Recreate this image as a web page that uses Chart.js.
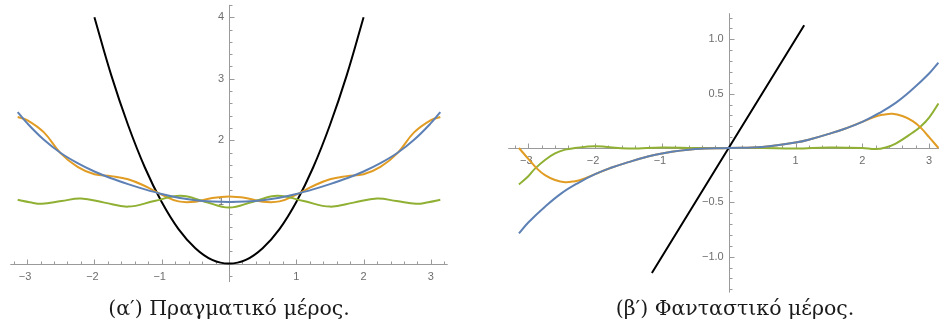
<!DOCTYPE html>
<html lang="el">
<head>
<meta charset="UTF-8" />
<title>Πραγματικό και φανταστικό μέρος</title>
<script src="https://cdn.jsdelivr.net/npm/chart.js"></script>
<style>
    body {
        margin: 0;
        background: #ffffff;
        width: 939px;
        height: 327px;
        overflow: hidden;
        position: relative;
    }
    canvas {
        position: absolute;
        top: 0;
    }
    #reCanvas { left: 0; }
    #imCanvas { left: 500px; }
    .caption {
        position: absolute;
        top: 296px;
        font-family: "DejaVu Serif", serif;
        font-size: 20.5px;
        color: #1a1a1a;
        text-align: center;
        width: 400px;
        white-space: nowrap;
    }
</style>
</head>
<body>

<canvas id="reCanvas" width="460" height="300"></canvas>
<canvas id="imCanvas" width="439" height="300"></canvas>
<div class="caption" style="left: 29px;">(α′) Πραγματικό μέρος.</div>
<div class="caption" style="left: 535px;">(β′) Φανταστικό μέρος.</div>

<script>
    // ---- real part ----
    const reBlackX = [-2, -1.75, -1.5, -1.25, -1, -0.75, -0.5, -0.25, 0, 0.25, 0.5, 0.75, 1, 1.25, 1.5, 1.75, 2];
    const reBlackY = [4, 3.06, 2.25, 1.56, 1, 0.56, 0.25, 0.06, 0, 0.06, 0.25, 0.56, 1, 1.56, 2.25, 3.06, 4];

    const reGridX = [-3.14, -3, -2.75, -2.5, -2.25, -2, -1.75, -1.5, -1.25, -1, -0.75, -0.5, -0.25, 0,
                     0.25, 0.5, 0.75, 1, 1.25, 1.5, 1.75, 2, 2.25, 2.5, 2.75, 3, 3.14];
    const reBlueY = [2.46, 2.28, 2.01, 1.795, 1.63, 1.495, 1.385, 1.29, 1.205, 1.13, 1.07, 1.03, 1.008, 1.00,
                     1.008, 1.03, 1.07, 1.13, 1.205, 1.29, 1.385, 1.495, 1.63, 1.795, 2.01, 2.28, 2.46];
    const reOrangeY = [2.38, 2.33, 2.13, 1.79, 1.57, 1.45, 1.42, 1.37, 1.26, 1.12, 1.01, 1.005, 1.065, 1.09,
                       1.065, 1.005, 1.01, 1.12, 1.26, 1.37, 1.42, 1.45, 1.57, 1.79, 2.13, 2.33, 2.38];

    const reGreenX = [-3.14, -2.96, -2.78, -2.49, -2.2, -1.85, -1.5, -1.11, -0.72, -0.36, 0,
                      0.36, 0.72, 1.11, 1.5, 1.85, 2.2, 2.49, 2.78, 2.96, 3.14];
    const reGreenY = [1.035, 0.995, 0.97, 1.015, 1.055, 0.99, 0.925, 1.015, 1.10, 1.005, 0.91,
                      1.005, 1.10, 1.015, 0.925, 0.99, 1.055, 1.015, 0.97, 0.995, 1.035];

    // ---- imaginary part ----
    const imBlackX = [-1.15, 1.13];
    const imBlackY = [-1.15, 1.13];

    const imBlueX = [-3.14, -3, -2.75, -2.5, -2.25, -2, -1.75, -1.5, -1.25, -1, -0.5, 0,
                     0.5, 1, 1.25, 1.5, 1.75, 2, 2.25, 2.5, 2.75, 3, 3.14];
    const imBlueY = [-0.785, -0.685, -0.54, -0.415, -0.32, -0.24, -0.18, -0.13, -0.085, -0.05, -0.01, 0,
                     0.01, 0.05, 0.085, 0.13, 0.18, 0.24, 0.32, 0.415, 0.54, 0.685, 0.785];

    const imOrangeX = [-3.14, -3, -2.87, -2.75, -2.6, -2.45, -2.3, -2.2, -2, -1.75, -1.5, -1.25, -1, -0.5, 0,
                       0.5, 1, 1.25, 1.5, 1.75, 2, 2.2, 2.3, 2.45, 2.6, 2.75, 2.87, 3, 3.14];
    const imOrangeY = [0, -0.10, -0.19, -0.25, -0.295, -0.315, -0.305, -0.29, -0.24, -0.18, -0.13, -0.085, -0.05, -0.01, 0,
                       0.01, 0.05, 0.085, 0.13, 0.18, 0.24, 0.29, 0.305, 0.315, 0.295, 0.25, 0.19, 0.10, 0];

    const imGreenX = [-3.14, -3, -2.9, -2.75, -2.6, -2.45, -2.3, -2, -1.5, -1, -0.5, 0,
                      0.5, 1, 1.5, 2, 2.2, 2.35, 2.5, 2.75, 2.87, 3, 3.14];
    const imGreenY = [-0.335, -0.26, -0.19, -0.11, -0.05, -0.015, 0, 0.015, -0.005, 0.005, 0, 0,
                      0, -0.005, 0.005, 0, -0.01, 0.005, 0.04, 0.14, 0.196, 0.28, 0.41];

    // ---- axis ticks ----
    const reXTicks = [-3, -2, -1, 1, 2, 3];
    const reXLabels = ['−3', '−2', '−1', '1', '2', '3'];
    const reYTicks = [1, 2, 3, 4];
    const reYLabels = ['1', '2', '3', '4'];
    const imXTicks = [-3, -2, -1, 1, 2, 3];
    const imXLabels = ['−3', '−2', '−1', '1', '2', '3'];
    const imYTicks = [-1, -0.5, 0.5, 1];
    const imYLabels = ['−1.0', '−0.5', '0.5', '1.0'];

    const COLORS = { blue: '#5e81b5', orange: '#e19c24', green: '#8fb032', black: '#000000' };

    function zip(xs, ys) {
        return xs.map((x, i) => ({ x: x, y: ys[i] }));
    }

    function line(xs, ys, color) {
        return {
            data: zip(xs, ys),
            borderColor: color,
            borderWidth: 2,
            pointRadius: 0,
            tension: 0.4,
            fill: false
        };
    }

    // axes through the origin, Mathematica style: inward ticks, grey labels
    const originAxes = {
        id: 'originAxes',
        beforeDatasetsDraw(chart, args, opts) {
            const ctx = chart.ctx;
            const xs = chart.scales.x, ys = chart.scales.y;
            const ox = xs.getPixelForValue(0), oy = ys.getPixelForValue(0);
            const area = chart.chartArea;
            ctx.save();
            ctx.strokeStyle = '#9a9a9a';
            ctx.lineWidth = 1;
            ctx.beginPath();
            ctx.moveTo(area.left, Math.round(oy) + 0.5);
            ctx.lineTo(area.right, Math.round(oy) + 0.5);
            ctx.moveTo(Math.round(ox) + 0.5, area.top);
            ctx.lineTo(Math.round(ox) + 0.5, area.bottom);
            ctx.stroke();

            // minor + major ticks along both axes
            ctx.beginPath();
            for (let v = Math.ceil(xs.min / opts.xMinor); v * opts.xMinor <= xs.max; v++) {
                const val = v * opts.xMinor;
                if (Math.abs(val) < 1e-9) continue;
                const major = Math.abs(val - Math.round(val / opts.xMajor) * opts.xMajor) < 1e-9;
                const px = Math.round(xs.getPixelForValue(val)) + 0.5;
                ctx.moveTo(px, Math.round(oy));
                ctx.lineTo(px, Math.round(oy) - (major ? 4.5 : 2.5));
            }
            for (let v = Math.ceil(ys.min / opts.yMinor); v * opts.yMinor <= ys.max; v++) {
                const val = v * opts.yMinor;
                if (Math.abs(val) < 1e-9) continue;
                const major = Math.abs(val - Math.round(val / opts.yMajor) * opts.yMajor) < 1e-9;
                const py = Math.round(ys.getPixelForValue(val)) + 0.5;
                ctx.moveTo(Math.round(ox) + 1, py);
                ctx.lineTo(Math.round(ox) + 1 + (major ? 4.5 : 2.5), py);
            }
            ctx.stroke();

            ctx.fillStyle = '#6e6e6e';
            ctx.font = '11px "Liberation Sans", Arial, sans-serif';
            ctx.textAlign = 'center';
            ctx.textBaseline = 'middle';
            opts.xTicks.forEach((t, i) => {
                ctx.fillText(opts.xLabels[i], xs.getPixelForValue(t) - (t < 0 ? 2 : 0), oy + 13);
            });
            ctx.textAlign = 'right';
            opts.yTicks.forEach((t, i) => {
                ctx.fillText(opts.yLabels[i], ox - 5, ys.getPixelForValue(t));
            });
            ctx.restore();
        }
    };

    // padding that puts the origin and unit length at the given canvas pixels
    function padding(canvasW, canvasH, origin, unit, range) {
        return {
            left: origin.x + range.xMin * unit.x,
            right: canvasW - (origin.x + range.xMax * unit.x),
            top: origin.y - range.yMax * unit.y,
            bottom: canvasH - (origin.y - range.yMin * unit.y)
        };
    }

    function makeChart(id, datasets, range, pad, axisOpts) {
        return new Chart(document.getElementById(id), {
            type: 'line',
            data: { datasets: datasets },
            options: {
                responsive: false,
                animation: false,
                layout: { padding: pad },
                scales: {
                    x: { type: 'linear', min: range.xMin, max: range.xMax, display: false },
                    y: { type: 'linear', min: range.yMin, max: range.yMax, display: false }
                },
                plugins: {
                    legend: { display: false },
                    tooltip: { enabled: false },
                    originAxes: axisOpts
                }
            },
            plugins: [originAxes]
        });
    }

    const reRange = { xMin: -3.25, xMax: 3.25, yMin: -0.3, yMax: 4.2 };
    makeChart('reCanvas', [
        line(reGridX, reBlueY, COLORS.blue),
        line(reGreenX, reGreenY, COLORS.green),
        line(reGridX, reOrangeY, COLORS.orange),
        line(reBlackX, reBlackY, COLORS.black)
    ], reRange,
    padding(460, 300, { x: 229, y: 263.6 }, { x: 67.3, y: 61.6 }, reRange),
    { xTicks: reXTicks, xLabels: reXLabels, yTicks: reYTicks, yLabels: reYLabels,
      xMinor: 0.2, xMajor: 1, yMinor: 0.2, yMajor: 1 });

    const imRange = { xMin: -3.3, xMax: 3.148, yMin: -1.33, yMax: 1.24 };
    makeChart('imCanvas', [
        line(imBlueX, imBlueY, COLORS.blue),
        line(imOrangeX, imOrangeY, COLORS.orange),
        line(imGreenX, imGreenY, COLORS.green),
        line(imBlackX, imBlackY, COLORS.black)
    ], imRange,
    padding(439, 300, { x: 228.7, y: 148 }, { x: 66.8, y: 108.7 }, imRange),
    { xTicks: imXTicks, xLabels: imXLabels, yTicks: imYTicks, yLabels: imYLabels,
      xMinor: 0.2, xMajor: 1, yMinor: 0.1, yMajor: 0.5 });
</script>

</body>
</html>
